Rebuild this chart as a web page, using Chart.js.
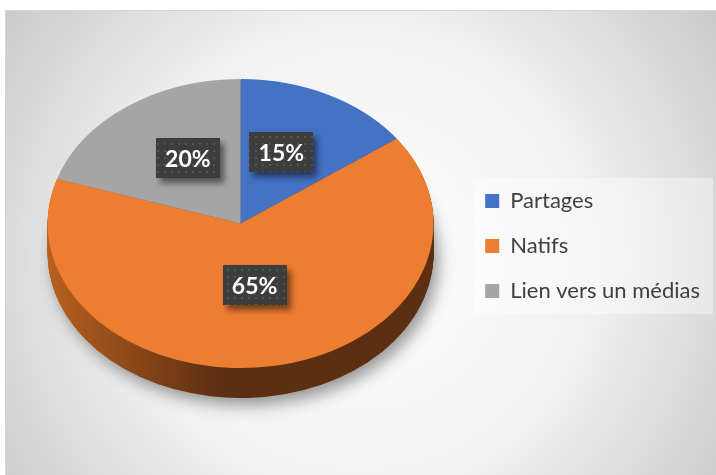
<!DOCTYPE html>
<html>
<head>
<meta charset="utf-8">
<script src="https://cdn.jsdelivr.net/npm/chart.js@4.4.0/dist/chart.umd.min.js"></script>
<style>
  html, body { margin: 0; padding: 0; background: #fff; }
  #wrap { width: 716px; height: 475px; }
</style>
</head>
<body>
<div id="wrap"><canvas id="pieChart" width="716" height="475"></canvas></div>
<script>
const categories = ['Partages', 'Natifs', 'Lien vers un médias'];
const shares = [15, 65, 20];
const sliceColors = ['#4472c4', '#ed7d31', '#a5a5a5'];
const sideColors = [['#2f5597', '#1f3864'], ['#b8601f', '#5c2e12'], ['#7f7f7f', '#4d4d4d']];

const TILT = 0.749;      // vertical squash of the pie top
const TOP_CY = 223.5;    // where the squashed centre sits
const DEPTH = 30;        // thickness of the pie

function squash(ctx, cx, cy) {
  ctx.translate(cx, TOP_CY);
  ctx.scale(1, TILT);
  ctx.translate(-cx, -cy);
}

function dotPattern(ctx) {
  const c = document.createElement('canvas');
  c.width = 7; c.height = 7;
  const p = c.getContext('2d');
  p.fillStyle = '#3d3d3d';
  p.fillRect(0, 0, 7, 7);
  p.fillStyle = '#535353';
  p.fillRect(3, 3, 2, 2);
  return ctx.createPattern(c, 'repeat');
}

const backdrop = {
  id: 'backdrop',
  beforeDraw(chart) {
    const ctx = chart.ctx;
    ctx.save();
    ctx.fillStyle = '#fff';
    ctx.fillRect(0, 0, chart.width, chart.height);
    const g = ctx.createRadialGradient(360, 260, 0, 360, 260, 470);
    g.addColorStop(0, '#ffffff');
    g.addColorStop(0.5, '#f1f1f1');
    g.addColorStop(1, '#c3c3c3');
    ctx.fillStyle = g;
    ctx.fillRect(5, 10, chart.width - 5, chart.height - 10);
    ctx.strokeStyle = '#d4d4d4';
    ctx.lineWidth = 1;
    ctx.beginPath();
    ctx.moveTo(5.5, chart.height);
    ctx.lineTo(5.5, 10.5);
    ctx.lineTo(chart.width, 10.5);
    ctx.stroke();

    // legend panel
    const lg = chart.legend;
    const mid = (lg.top + lg.bottom) / 2;
    ctx.fillStyle = 'rgba(255,255,255,0.4)';
    ctx.fillRect(lg.left + 11, mid - 68, lg.right - lg.left - 8, 136);
    ctx.restore();
  }
};

const pie3d = {
  id: 'pie3d',
  beforeDatasetsDraw(chart) {
    const ctx = chart.ctx;
    const arcs = chart.getDatasetMeta(0).data;
    const cx = arcs[0].x, cy = arcs[0].y, r = arcs[0].outerRadius;

    for (let d = DEPTH; d >= 1; d--) {
      arcs.forEach((arc, i) => {
        ctx.save();
        ctx.translate(0, d);
        squash(ctx, cx, cy);
        const g = ctx.createLinearGradient(cx - r, 0, cx + r, 0);
        g.addColorStop(0, sideColors[i][0]);
        g.addColorStop(0.45, sideColors[i][1]);
        g.addColorStop(1, sideColors[i][1]);
        ctx.fillStyle = g;
        if (d === DEPTH) {
          ctx.shadowColor = 'rgba(0,0,0,0.4)';
          ctx.shadowBlur = 16;
          ctx.shadowOffsetX = 5;
          ctx.shadowOffsetY = 7;
        }
        ctx.beginPath();
        ctx.moveTo(cx, cy);
        ctx.arc(cx, cy, r, arc.startAngle, arc.endAngle);
        ctx.closePath();
        ctx.fill();
        ctx.restore();
      });
    }
    ctx.save();
    squash(ctx, cx, cy);
  },
  afterDatasetsDraw(chart) {
    const ctx = chart.ctx;
    ctx.restore();

    const arcs = chart.getDatasetMeta(0).data;
    const total = shares.reduce((a, b) => a + b, 0);
    const pattern = dotPattern(ctx);
    arcs.forEach((arc, i) => {
      const mid = (arc.startAngle + arc.endAngle) / 2;
      const x = arc.x + 0.465 * arc.outerRadius * Math.cos(mid);
      const y = TOP_CY - 8 + 0.49 * arc.outerRadius * TILT * Math.sin(mid);
      const w = 64, h = 40;
      ctx.save();
      ctx.shadowColor = 'rgba(0,0,0,0.5)';
      ctx.shadowBlur = 6;
      ctx.shadowOffsetX = 4;
      ctx.shadowOffsetY = 5;
      ctx.fillStyle = pattern;
      ctx.fillRect(Math.round(x - w / 2), Math.round(y - h / 2), w, h);
      ctx.restore();
      ctx.save();
      ctx.fillStyle = '#ffffff';
      ctx.font = 'bold 23px Lato';
      ctx.textAlign = 'center';
      ctx.textBaseline = 'middle';
      ctx.fillText(Math.round(shares[i] / total * 100) + '%', x, y + 1);
      ctx.restore();
    });
  }
};

new Chart(document.getElementById('pieChart'), {
  type: 'pie',
  data: {
    labels: categories,
    datasets: [{
      data: shares,
      backgroundColor: sliceColors,
      borderWidth: 0,
      radius: 193,
      clip: false,
    }],
  },
  options: {
    responsive: false,
    animation: false,
    events: [],
    devicePixelRatio: 1,
    layout: {
      padding: { left: 19, top: 53, bottom: 36, right: 6 },
    },
    plugins: {
      tooltip: { enabled: false },
      legend: {
        position: 'right',
        labels: {
          boxWidth: 14,
          boxHeight: 14,
          padding: 23,
          color: '#404040',
          font: { family: 'Lato', size: 22 },
        },
      },
    },
  },
  plugins: [backdrop, pie3d],
});
</script>
</body>
</html>
